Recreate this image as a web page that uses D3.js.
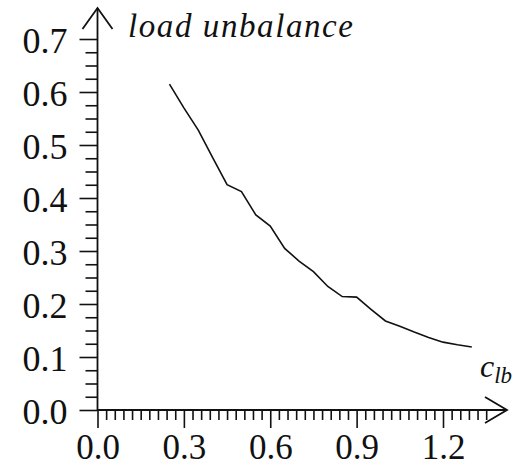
<!DOCTYPE html>
<html>
<head>
<meta charset="utf-8">
<script src="https://cdn.jsdelivr.net/npm/d3@7"></script>
<style>
    body { margin: 0; background: #fff; }
    svg { display: block; }
</style>
</head>
<body>
<div id="chart"></div>
<script>
// c_lb values and the measured load unbalance
var clb = [0.25, 0.30, 0.35, 0.40, 0.45, 0.50, 0.55, 0.60, 0.65, 0.70, 0.75,
    0.80, 0.85, 0.90, 0.95, 1.00, 1.05, 1.10, 1.15, 1.20, 1.25, 1.30];
var unbalance = [0.615, 0.570, 0.528, 0.476, 0.425, 0.412, 0.368, 0.347, 0.305, 0.281, 0.261,
    0.233, 0.214, 0.213, 0.190, 0.168, 0.158, 0.147, 0.137, 0.128, 0.123, 0.119];

var xTickLabels = [0.0, 0.3, 0.6, 0.9, 1.2];
var yTickLabels = [0.0, 0.1, 0.2, 0.3, 0.4, 0.5, 0.6, 0.7];

var width = 525, height = 468;
var serif = "'Liberation Serif', 'Times New Roman', serif";

var svg = d3.select("#chart").append("svg")
    .attr("width", width)
    .attr("height", height);

var x = d3.scaleLinear().domain([0, 1.2]).range([97.5, 443]);
var y = d3.scaleLinear().domain([0, 0.7]).range([410, 39]);

var fmt = d3.format(".1f");

// minor ticks
var xMinor = d3.range(0, 1.36, 0.03).filter(function (d) {
    return Math.abs(d / 0.3 - Math.round(d / 0.3)) > 1e-6;
});
var yMinor = d3.range(0, 0.701, 0.025).filter(function (d) {
    return Math.abs(d / 0.1 - Math.round(d / 0.1)) > 1e-6;
});

var xAxisMinor = d3.axisBottom(x).tickValues(xMinor).tickSize(10).tickFormat("");
var xAxisMajor = d3.axisBottom(x).tickValues(xTickLabels).tickSize(18).tickFormat(fmt);
var yAxisMinor = d3.axisLeft(y).tickValues(yMinor).tickSize(12).tickFormat("");
var yAxisMajor = d3.axisLeft(y).tickValues(yTickLabels).tickSize(18).tickPadding(12).tickFormat(fmt);

function styleAxis(g) {
    g.select(".domain").remove();
    g.selectAll("line").attr("stroke", "#111").attr("stroke-width", 1.6);
    g.selectAll("text")
        .style("font-family", serif)
        .style("font-size", "36px")
        .attr("fill", "#111");
}

svg.append("g").attr("transform", "translate(0," + y(0) + ")").call(xAxisMinor).call(styleAxis);
svg.append("g").attr("transform", "translate(0," + y(0) + ")").call(xAxisMajor).call(styleAxis)
    .selectAll("text").style("font-size", "35px").attr("y", 49).attr("dy", null);
svg.append("g").attr("transform", "translate(" + x(0) + ",0)").call(yAxisMinor).call(styleAxis);
svg.append("g").attr("transform", "translate(" + x(0) + ",0)").call(yAxisMajor).call(styleAxis)
    .selectAll("text").attr("y", 13).attr("dy", null);

// axis lines with open arrow heads
var axes = svg.append("g")
    .attr("fill", "none")
    .attr("stroke", "#111")
    .attr("stroke-width", 1.8);

var xEnd = 507, yEnd = 8;
axes.append("path")
    .attr("d", "M" + x(0) + "," + y(0) + "H" + xEnd);
axes.append("path")
    .attr("d", "M" + (xEnd - 22) + "," + (y(0) - 13) + "L" + xEnd + "," + y(0) + "L" + (xEnd - 22) + "," + (y(0) + 13));
axes.append("path")
    .attr("d", "M" + x(0) + "," + y(0) + "V" + yEnd);
axes.append("path")
    .attr("d", "M" + (x(0) - 15) + "," + (yEnd + 21) + "L" + x(0) + "," + yEnd + "L" + (x(0) + 15) + "," + (yEnd + 21));

// data line
var line = d3.line()
    .x(function (d, i) { return x(clb[i]); })
    .y(function (d) { return y(d); });

svg.append("path")
    .datum(unbalance)
    .attr("fill", "none")
    .attr("stroke", "#111")
    .attr("stroke-width", 1.6)
    .attr("d", line);

// axis titles
svg.append("text")
    .attr("x", 128)
    .attr("y", 37)
    .style("font-family", serif)
    .style("font-size", "33px")
    .style("font-style", "italic")
    .attr("fill", "#111")
    .attr("textLength", 225)
    .attr("lengthAdjust", "spacing")
    .text("load unbalance");

var cl = svg.append("text")
    .attr("x", 480)
    .attr("y", 377)
    .style("font-family", serif)
    .style("font-size", "32px")
    .style("font-style", "italic")
    .attr("fill", "#111");
cl.append("tspan").text("c");
cl.append("tspan").style("font-size", "23px").attr("dy", 6).text("lb");
</script>
</body>
</html>
